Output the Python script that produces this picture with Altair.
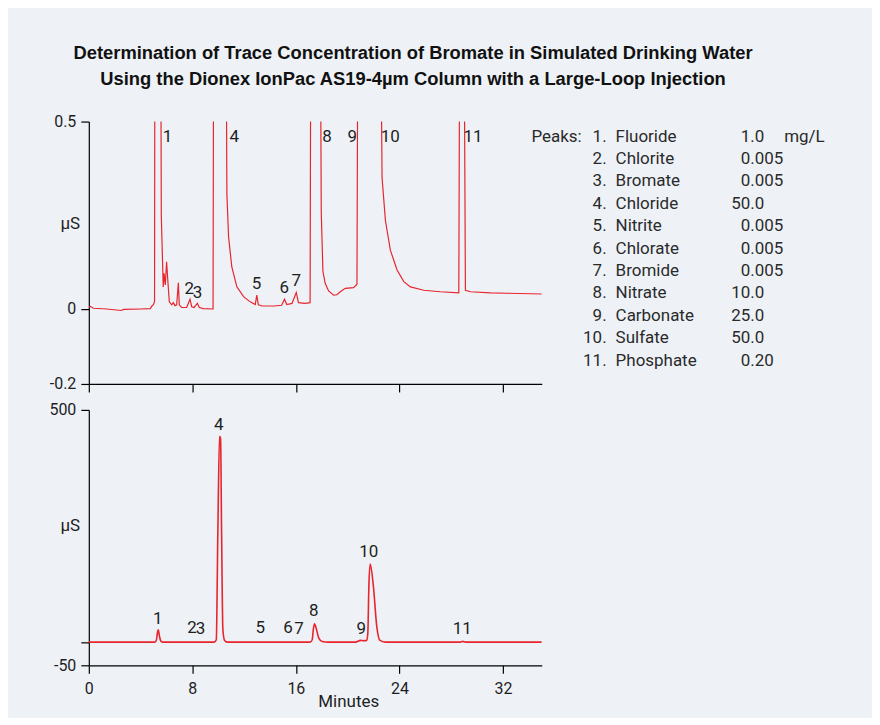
import altair as alt
import pandas as pd

FONT = "Roboto"
TITLE_FONT = "Liberation Sans"
RED = "#e8242c"
INK = "#1e1e1e"

# ---------------- data: upper panel (expanded scale, µS) ----------------
top_t = [0.00, 0.12, 0.35, 1.40, 2.50, 2.70, 4.00, 4.75, 4.88, 5.00, 5.08, 5.11, 5.55, 5.60,
         5.75, 5.81, 5.91, 6.01, 6.12, 6.22, 6.40, 6.53, 6.66, 6.79, 6.92, 6.99, 7.17, 7.56,
         7.82, 7.95, 8.13, 8.39, 8.54, 8.85, 9.60, 9.65, 10.59, 10.67, 10.80, 11.05, 11.44,
         11.96, 12.47, 12.86, 12.98, 13.10, 13.40, 14.30, 14.90, 15.12, 15.30, 15.70, 16.03,
         16.20, 16.70, 17.10, 17.16, 17.88, 17.96, 18.09, 18.27, 18.53, 18.92, 19.17, 19.43,
         19.82, 20.46, 20.72, 20.80, 22.53, 22.66, 22.92, 23.30, 23.82, 24.34, 24.85, 25.88,
         27.17, 28.59, 28.67, 28.98, 29.10, 29.50, 31.05, 32.30, 35.00]
top_v = [0.005, 0.007, 0.002, 0.000, -0.004, -0.001, 0.000, 0.001, 0.008, 0.012, 0.020, 0.9, 0.9, 0.250,
         0.059, 0.095, 0.064, 0.126, 0.068, 0.019, 0.011, 0.017, 0.009, 0.011, 0.070, 0.011, 0.004, 0.004,
         0.026, 0.006, 0.004, 0.015, 0.004, 0.001, 0.000, 0.9, 0.9, 0.307, 0.192, 0.112, 0.059,
         0.033, 0.019, 0.012, 0.037, 0.011, 0.008, 0.008, 0.010, 0.026, 0.012, 0.015, 0.044,
         0.017, 0.015, 0.017, 0.9, 0.9, 0.260, 0.100, 0.068, 0.048, 0.037, 0.038, 0.046,
         0.055, 0.057, 0.066, 0.9, 0.9, 0.350, 0.236, 0.157, 0.104, 0.073, 0.059, 0.050,
         0.046, 0.043, 0.9, 0.9, 0.050, 0.046, 0.043, 0.042, 0.040]

top_lab_text = ["1", "2", "3", "4", "5", "6", "7", "8", "9", "10", "11"]
top_lab_t = [6.09, 7.77, 8.39, 11.23, 12.96, 15.10, 16.03, 18.41, 20.35, 23.30, 29.69]
top_lab_v = [0.460, 0.052, 0.042, 0.460, 0.066, 0.055, 0.075, 0.460, 0.460, 0.460, 0.460]

# ---------------- data: lower panel (full scale, µS) ----------------
bot_t = [0.00, 5.10, 5.22, 5.30, 5.37, 5.45, 5.55, 5.70, 9.70, 9.85, 9.97, 10.10, 10.18,
         10.26, 10.36, 10.49, 10.70, 17.10, 17.26, 17.36, 17.44, 17.60, 17.77, 18.03, 18.50,
         20.60, 21.00, 21.20, 21.48, 21.56, 21.64, 21.74, 21.99, 22.25, 22.50, 22.90, 28.70,
         28.90, 29.10, 35.00]
bot_v = [0.0, 0.0, 4.0, 20.0, 26.5, 14.0, 3.0, 0.0, 0.0, 5.0, 235.0, 443.0, 439.0,
         235.0, 26.5, 3.6, 0.0, 0.0, 5.0, 30.0, 39.5, 26.5, 8.6, 1.4, 0.0,
         0.0, 3.6, 3.0, 3.6, 19.0, 120.0, 168.0, 120.0, 34.0, 3.6, 0.0, 0.0,
         1.5, 0.0, 0.0]

bot_lab_text = ["1", "2", "3", "4", "5", "6", "7", "8", "9", "10", "11"]
bot_lab_t = [5.32, 7.98, 8.64, 10.05, 13.25, 15.40, 16.24, 17.39, 21.05, 21.64, 28.85]
bot_lab_v = [50.0, 29.4, 28.0, 467.0, 30.8, 29.4, 28.0, 66.0, 28.0, 193.0, 28.0]

# ---------------- peak table ----------------
peak_num = ["1.", "2.", "3.", "4.", "5.", "6.", "7.", "8.", "9.", "10.", "11."]
peak_name = ["Fluoride", "Chlorite", "Bromate", "Chloride", "Nitrite", "Chlorate",
             "Bromide", "Nitrate", "Carbonate", "Sulfate", "Phosphate"]
peak_amt = ["1.0", "0.005", "0.005", "50.0", "0.005", "0.005", "0.005", "10.0",
            "25.0", "50.0", "0.20"]
unit_text = "mg/L"
peaks_word = "Peaks:"

title_lines = ["Determination of Trace Concentration of Bromate in Simulated Drinking Water",
               "Using the Dionex IonPac AS19-4µm Column with a Large-Loop Injection"]

x_ticks = [0, 8, 16, 24, 32]
top_y_ticks = [-0.2, 0, 0.5]
top_y_labels = ["-0.2", "0", "0.5"]
bot_y_ticks = [-50, 0, 500]
bot_y_labels = ["-50", "", "500"]


def label_expr(vals, labels):
    expr = "''"
    for v, l in reversed(list(zip(vals, labels))):
        expr = f"abs(datum.value - ({v})) < 1e-6 ? '{l}' : {expr}"
    return expr


W = 454
H_TOP = 263
H_BOT = 256
X_DOM = [0, 35]

axis_common = dict(grid=False, domainColor="black", tickColor="black", domainWidth=1.2,
                   tickWidth=1.2, tickSize=8, labelFont=FONT, labelFontSize=16,
                   labelColor=INK, titleFont=FONT, titleFontSize=17,
                   titleFontWeight="normal", titleColor=INK, labelFlush=False)

# ---------- upper panel ----------
df_top = pd.DataFrame({"t": top_t, "v": top_v})
df_top_lab = pd.DataFrame({"t": top_lab_t, "v": top_lab_v, "s": top_lab_text})

x_top = alt.X("t:Q", scale=alt.Scale(domain=X_DOM, nice=False, zero=False),
              axis=alt.Axis(values=x_ticks, labels=False, title=None, **axis_common))
y_top_scale = alt.Scale(domain=[-0.2, 0.5], nice=False, zero=False)

line_top = alt.Chart(df_top).mark_line(color=RED, strokeWidth=1.2, clip=True,
                                       interpolate="linear").encode(
    x=x_top,
    y=alt.Y("v:Q", scale=y_top_scale,
            axis=alt.Axis(values=top_y_ticks, labelExpr=label_expr(top_y_ticks, top_y_labels),
                          title="µS", titleAngle=0, titleX=-19, titleY=102,
                          titleAlign="center", titleBaseline="middle", labelPadding=5,
                          **axis_common)),
)

lab_top = alt.Chart(df_top_lab).mark_text(font=FONT, fontSize=17, color=INK,
                                          baseline="middle", align="center").encode(
    x=alt.X("t:Q", scale=alt.Scale(domain=X_DOM, nice=False, zero=False)),
    y=alt.Y("v:Q", scale=y_top_scale, axis=None),
    text="s:N",
)

# peak table (rows placed through their own row scale)
df_tab = pd.DataFrame({
    "row": list(range(len(peak_name))),
    "num": peak_num,
    "name": peak_name,
    "ip": [a.split(".")[0] for a in peak_amt],
    "fp": ["." + a.split(".")[1] for a in peak_amt],
})
df_head = pd.DataFrame({"row": [0], "peaks": [peaks_word], "unit": [unit_text]})
row_scale = alt.Scale(domain=[-0.6676, 11.037], reverse=True, nice=False, zero=False)
row_y = alt.Y("row:Q", scale=row_scale, axis=None)


def tab_text(df, field, xpix, align):
    return alt.Chart(df).mark_text(font=FONT, fontSize=17, color="#2a2a2a",
                                   baseline="middle", align=align).encode(
        x=alt.value(xpix), y=row_y, text=f"{field}:N")


tab_layers = [
    tab_text(df_head, "peaks", 494, "right"),
    tab_text(df_tab, "num", 519, "right"),
    tab_text(df_tab, "name", 528, "left"),
    tab_text(df_tab, "ip", 663, "right"),
    tab_text(df_tab, "fp", 663, "left"),
    tab_text(df_head, "unit", 697, "left"),
]

top = alt.layer(line_top, lab_top, *tab_layers).properties(
    width=W, height=H_TOP).resolve_scale(y="independent")

# ---------- lower panel ----------
df_bot = pd.DataFrame({"t": bot_t, "v": bot_v})
df_bot_lab = pd.DataFrame({"t": bot_lab_t, "v": bot_lab_v, "s": bot_lab_text})
y_bot_scale = alt.Scale(domain=[-50, 500], nice=False, zero=False)
x_bot_scale = alt.Scale(domain=X_DOM, nice=False, zero=False)

line_bot = alt.Chart(df_bot).mark_line(color=RED, strokeWidth=1.6, clip=True,
                                       interpolate="monotone").encode(
    x=alt.X("t:Q", scale=x_bot_scale,
            axis=alt.Axis(values=x_ticks, title="Minutes", labelPadding=7,
                          titleX=260, titleY=36, titleBaseline="middle",
                          titleAlign="center", **axis_common)),
    y=alt.Y("v:Q", scale=y_bot_scale,
            axis=alt.Axis(values=bot_y_ticks, labelExpr=label_expr(bot_y_ticks, bot_y_labels),
                          title="µS", titleAngle=0, titleX=-19, titleY=116,
                          titleAlign="center", titleBaseline="middle", labelPadding=5,
                          **axis_common)),
)
lab_bot = alt.Chart(df_bot_lab).mark_text(font=FONT, fontSize=17, color=INK,
                                          baseline="middle", align="center").encode(
    x=alt.X("t:Q", scale=x_bot_scale),
    y=alt.Y("v:Q", scale=y_bot_scale),
    text="s:N",
)
bottom = alt.layer(line_bot, lab_bot).properties(width=W, height=H_BOT)

chart = alt.vconcat(top, bottom, spacing=26, bounds="flush").properties(
    title=alt.TitleParams(text=title_lines, font=TITLE_FONT, fontSize=18.4, fontWeight="bold",
                          color="#111111", anchor="middle", frame="group", lineHeight=26,
                          offset=25, dx=98),
    padding={"left": 41, "top": 35, "right": 47, "bottom": 8},
    background="#eef2f7",
).configure_view(stroke=None)

chart.save("out.html", embed_options={"renderer": "svg", "actions": False})
